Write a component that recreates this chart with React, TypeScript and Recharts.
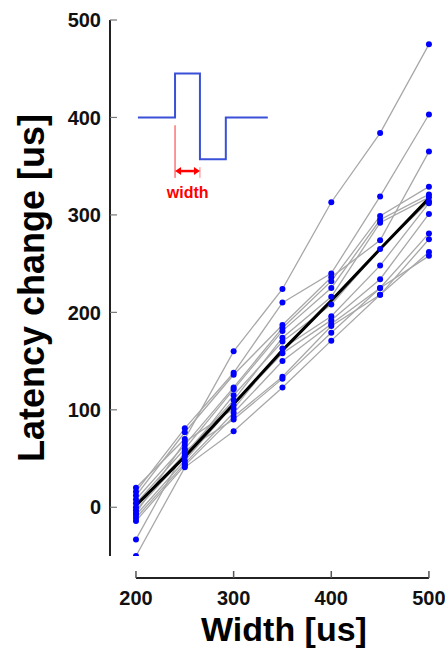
import React from "react";
import {
  ComposedChart,
  Line,
  Scatter,
  XAxis,
  YAxis,
  ReferenceLine,
  ReferenceDot,
} from "recharts";

// ---- data ----
const widths = [200, 250, 300, 350, 400, 450, 500];
const cell01 = [20, 70, 160, 224, 313, 384, 475];
const cell02 = [16, 81, 138, 210, 240, 319, 403];
const cell03 = [12, 77, 136, 187, 236, 274, 365];
const cell04 = [8, 64, 123, 184, 232, 299, 329];
const cell05 = [4, 60, 121, 181, 225, 295, 321];
const cell06 = [0, 55, 110, 174, 216, 292, 318];
const cell07 = [-3, 52, 115, 170, 208, 265, 314];
const cell08 = [-6, 67, 101, 163, 196, 248, 312];
const cell09 = [-8, 48, 105, 158, 192, 234, 301];
const cell10 = [-11, 45, 97, 150, 188, 225, 281];
const cell11 = [-14, 43, 93, 134, 186, 218, 275];
const cell12 = [-33, 58, 90, 132, 179, 225, 258];
const cell13 = [-50, 41, 78, 123, 171, 218, 262];
const fitLine = [2, 52, 106, 161, 212, 265, 317];

const xTicks = [200, 300, 400, 500];
const yTicks = [0, 100, 200, 300, 400, 500];

// inset pulse waveform (in data units)
const pulseX = [202, 240, 240, 265.5, 265.5, 292, 292, 335];
const pulseY = [400, 400, 445, 445, 357, 357, 400, 400];

const cells = [
  cell01, cell02, cell03, cell04, cell05, cell06, cell07,
  cell08, cell09, cell10, cell11, cell12, cell13,
];

const table = widths.map((w, i) => {
  const row: Record<string, number> = { x: w, fit: fitLine[i] };
  cells.forEach((c, k) => {
    row["c" + k] = c[i];
  });
  return row;
});

const points = cells.flatMap((c) => c.map((v, i) => ({ x: widths[i], y: v })));
const pulse = pulseX.map((x, i) => ({ x, pulse: pulseY[i] }));

const FONT = "'Liberation Sans', Arial, Helvetica, sans-serif";

const XTick = (props: any) => {
  const { x, y, payload } = props;
  return (
    <g>
      <line x1={x} x2={x} y1={y + 15} y2={y + 22} stroke="#555" strokeWidth={1.5} />
      <text
        x={x}
        y={y + 49}
        textAnchor="middle"
        fontFamily={FONT}
        fontSize={20}
        fontWeight="bold"
        fill="#111"
      >
        {payload.value}
      </text>
    </g>
  );
};

const YTick = (props: any) => {
  const { x, y, payload } = props;
  return (
    <g>
      <line x1={x} x2={x + 7} y1={y} y2={y} stroke="#777" strokeWidth={1.2} />
      <text
        x={x - 9}
        y={y}
        dy="0.36em"
        textAnchor="end"
        fontFamily={FONT}
        fontSize={20}
        fontWeight="bold"
        fill="#111"
      >
        {payload.value}
      </text>
    </g>
  );
};

const YTitle = () => (
  <text
    x={44}
    y={288}
    transform="rotate(-90 44 288)"
    textAnchor="middle"
    fontFamily={FONT}
    fontSize={36}
    fontWeight="bold"
    fill="#000"
  >
    Latency change [us]
  </text>
);

const XTitle = () => (
  <text
    x={284}
    y={641}
    textAnchor="middle"
    fontFamily={FONT}
    fontSize={34}
    fontWeight="bold"
    fill="#000"
  >
    Width [us]
  </text>
);

const DoubleArrow = (props: any) => {
  const { x1, y1, x2, y2 } = props;
  const h = 6;
  const w = 4;
  return (
    <g>
      <line x1={x1 + h} y1={y1} x2={x2 - h} y2={y2} stroke="#ff0000" strokeWidth={2.5} />
      <polygon points={`${x1},${y1} ${x1 + h},${y1 - w} ${x1 + h},${y1 + w}`} fill="#ff0000" />
      <polygon points={`${x2},${y2} ${x2 - h},${y2 - w} ${x2 - h},${y2 + w}`} fill="#ff0000" />
    </g>
  );
};

const WidthText = (props: any) => (
  <text
    x={props.cx}
    y={props.cy}
    textAnchor="middle"
    fontFamily={FONT}
    fontSize={16}
    fontWeight="bold"
    fill="#ff0000"
  >
    width
  </text>
);

const BlueDot = (props: any) => (
  <circle cx={props.cx} cy={props.cy} r={3} fill="#0000ff" />
);

export default function App() {
  return (
    <div>
      <style>{`body{margin:0;background:#fff}`}</style>
      <ComposedChart
        width={445}
        height={655}
        data={table}
        margin={{ top: 20, right: 6.3, bottom: 0, left: 0 }}
      >
        <XAxis
          dataKey="x"
          type="number"
          domain={[173.4, 510]}
          allowDataOverflow
          ticks={xTicks}
          axisLine={false}
          tickLine={false}
          tickSize={0}
          tickMargin={0}
          height={99}
          tick={<XTick />}
          interval={0}
        />
        <YAxis
          type="number"
          domain={[-50, 500]}
          allowDataOverflow
          ticks={yTicks}
          width={110}
          axisLine={{ stroke: "#222", strokeWidth: 2 }}
          tickLine={false}
          tickSize={0}
          tickMargin={0}
          tick={<YTick />}
          interval={0}
        />
        {cells.map((_, k) => (
          <Line
            key={k}
            dataKey={"c" + k}
            type="linear"
            stroke="#a8a8a8"
            strokeWidth={1.3}
            dot={false}
            activeDot={false}
            isAnimationActive={false}
          />
        ))}
        <Line
          dataKey="fit"
          type="linear"
          stroke="#000"
          strokeWidth={3}
          dot={false}
          activeDot={false}
          isAnimationActive={false}
        />
        <Scatter
          data={points}
          dataKey="y"
          shape={<BlueDot />}
          isAnimationActive={false}
        />
        <Line
          data={pulse}
          dataKey="pulse"
          type="linear"
          stroke="#3a50d8"
          strokeWidth={2}
          dot={false}
          activeDot={false}
          isAnimationActive={false}
        />
        <ReferenceLine
          segment={[{ x: 240, y: 392 }, { x: 240, y: 338 }]}
          stroke="#ff3030"
          strokeWidth={1}
          ifOverflow="visible"
        />
        <ReferenceLine
          segment={[{ x: 265.5, y: 349 }, { x: 265.5, y: 338 }]}
          stroke="#ff8080"
          strokeWidth={1}
          ifOverflow="visible"
        />
        <ReferenceLine
          segment={[{ x: 240, y: 345 }, { x: 265.5, y: 345 }]}
          shape={<DoubleArrow />}
          ifOverflow="visible"
        />
        <ReferenceDot x={253} y={317} r={0} shape={<WidthText />} ifOverflow="visible" />
        <ReferenceLine
          segment={[{ x: 200, y: -72.6 }, { x: 500, y: -72.6 }]}
          stroke="#222"
          strokeWidth={2}
          ifOverflow="visible"
        />
        <YTitle />
        <XTitle />
      </ComposedChart>
    </div>
  );
}
